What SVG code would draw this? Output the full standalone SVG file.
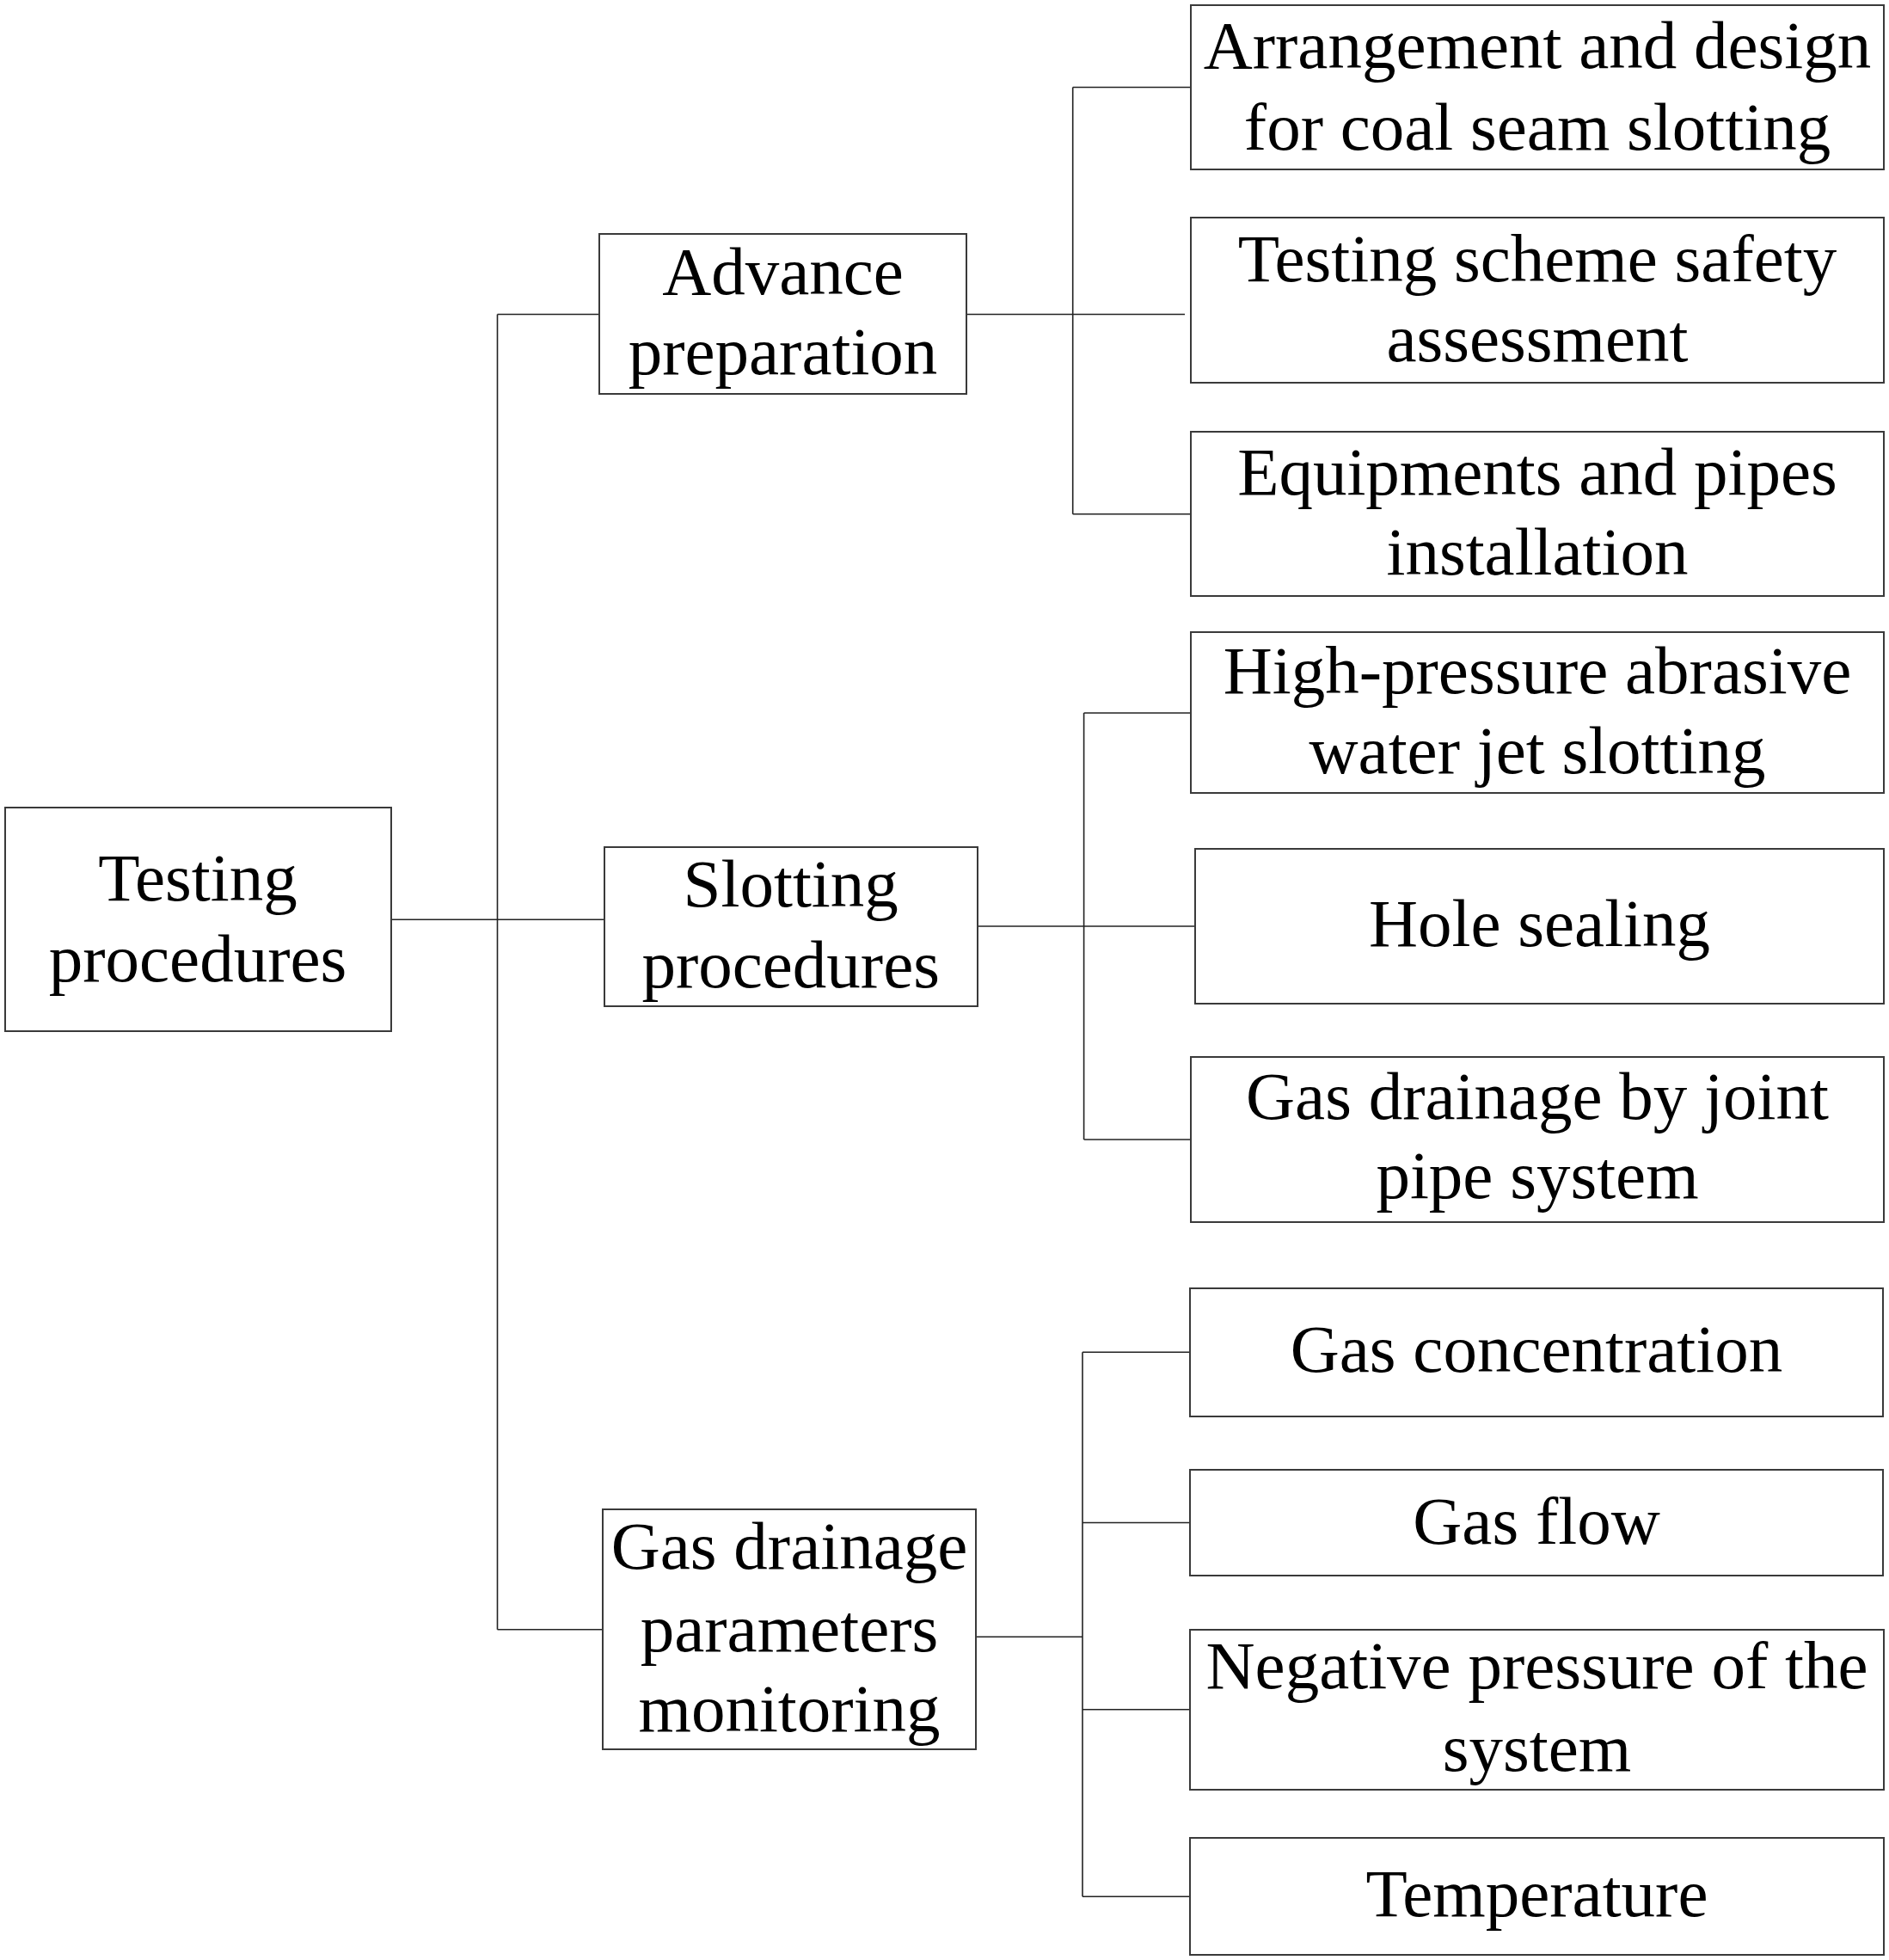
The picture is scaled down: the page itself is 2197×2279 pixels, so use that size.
<svg xmlns="http://www.w3.org/2000/svg" width="2197" height="2279" viewBox="0 0 2197 2279">
<style>
.box{fill:#fff;stroke:#3a3a3a;stroke-width:2}
.t{font-family:"Liberation Serif","Times New Roman",serif;font-size:79px;fill:#000;text-anchor:middle}
.c{fill:none;stroke:#222;stroke-width:1.6}
</style>
<rect width="2197" height="2279" fill="#fff"/>
<g id="connectors" class="c">
<path d="M455 1069.3 H709"/>
<path d="M578.5 365.5 V1894.7"/>
<path d="M578.5 365.5 H697"/>
<path d="M578.5 1894.7 H701"/>
<path d="M1124 365.5 H1378"/>
<path d="M1247.7 101.5 V597.8"/>
<path d="M1247.7 101.5 H1385"/>
<path d="M1247.7 597.8 H1385"/>
<path d="M1137 1077 H1390"/>
<path d="M1260.6 829 V1325"/>
<path d="M1260.6 829 H1385"/>
<path d="M1260.6 1325 H1385"/>
<path d="M1135 1903.2 H1259"/>
<path d="M1259 1572.2 V2205.2"/>
<path d="M1259 1572.2 H1384"/>
<path d="M1259 1770.5 H1384"/>
<path d="M1259 1987.8 H1384"/>
<path d="M1259 2205.2 H1384"/>
</g>
<g id="root"><rect class="box" x="6" y="939" width="449" height="260"/><text class="t" x="230" y="1046.7">Testing</text><text class="t" x="230" y="1140.7">procedures</text></g>
<g id="advance"><rect class="box" x="697" y="272" width="427" height="186"/><text class="t" x="910.5" y="342">Advance</text><text class="t" x="910.5" y="435.3">preparation</text></g>
<g id="slotting"><rect class="box" x="703" y="985" width="434" height="185"/><text class="t" x="919.7" y="1054">Slotting</text><text class="t" x="919.7" y="1148.4">procedures</text></g>
<g id="monitoring"><rect class="box" x="701" y="1755" width="434" height="279"/><text class="t" x="918" y="1824.4">Gas drainage</text><text class="t" x="918" y="1919.6">parameters</text><text class="t" x="918" y="2013.2">monitoring</text></g>
<g id="r1"><rect class="box" x="1385" y="6" width="806" height="191"/><text class="t" x="1788" y="79">Arrangement and design</text><text class="t" x="1788" y="173.5">for coal seam slotting</text></g>
<g id="r2"><rect class="box" x="1385" y="253" width="806" height="192"/><text class="t" x="1788" y="327">Testing scheme safety</text><text class="t" x="1788" y="420">assessment</text></g>
<g id="r3"><rect class="box" x="1385" y="502" width="806" height="191"/><text class="t" x="1788" y="574.8">Equipments and pipes</text><text class="t" x="1788" y="668">installation</text></g>
<g id="r4"><rect class="box" x="1385" y="735" width="806" height="187"/><text class="t" x="1788" y="805.7">High-pressure abrasive</text><text class="t" x="1788" y="898.7">water jet slotting</text></g>
<g id="r5"><rect class="box" x="1390" y="987" width="801" height="180"/><text class="t" x="1790.5" y="1100.4">Hole sealing</text></g>
<g id="r6"><rect class="box" x="1385" y="1229" width="806" height="192"/><text class="t" x="1788" y="1301">Gas drainage by joint</text><text class="t" x="1788" y="1393">pipe system</text></g>
<g id="r7"><rect class="box" x="1384" y="1498" width="806" height="149"/><text class="t" x="1787" y="1595.4">Gas concentration</text></g>
<g id="r8"><rect class="box" x="1384" y="1709" width="806" height="123"/><text class="t" x="1787" y="1794.8">Gas flow</text></g>
<g id="r9"><rect class="box" x="1384" y="1895" width="807" height="186"/><text class="t" x="1787.5" y="1963">Negative pressure of the</text><text class="t" x="1787.5" y="2059.2">system</text></g>
<g id="r10"><rect class="box" x="1384" y="2137" width="807" height="136"/><text class="t" x="1787.5" y="2228.4">Temperature</text></g>
</svg>
